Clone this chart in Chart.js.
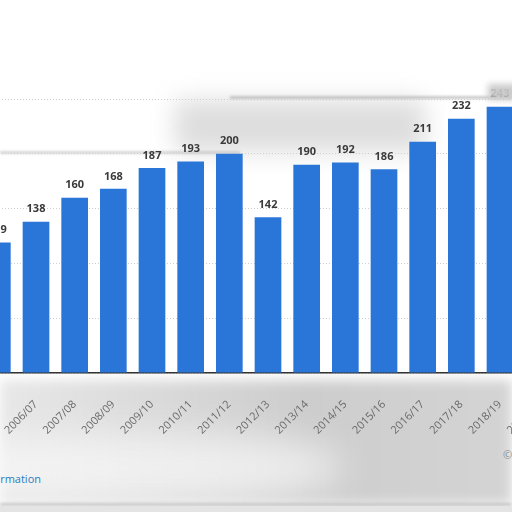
<!DOCTYPE html>
<html>
<head>
<meta charset="utf-8">
<script src="https://cdn.jsdelivr.net/npm/chart.js@4.4.1/dist/chart.umd.min.js"></script>
<style>
  html, body { margin: 0; padding: 0; width: 512px; height: 512px; overflow: hidden; background: #fff; }
  body { position: relative; font-family: "Open Sans", sans-serif; }
  .smudge { position: absolute; pointer-events: none; }
  #wrap { position: absolute; left: -22px; top: 79px; width: 580px; height: 364px; }
  #info { position: absolute; right: 471px; top: 471px; font-size: 11px; color: #2a7bc4; white-space: nowrap; }
  #copy { position: absolute; left: 503px; top: 447px; font-size: 11px; color: #8a8a8a; white-space: nowrap; }
</style>
</head>
<body>
<div class="smudge" style="left:0;top:380px;width:512px;height:124px;background:linear-gradient(90deg,#e8e8e8 0%,#d8d8d8 35%,#cdcdcd 60%,#d4d4d4 100%);filter:blur(6px)"></div>
<div class="smudge" style="left:-40px;top:435px;width:380px;height:65px;background:rgba(250,250,250,0.7);filter:blur(18px);border-radius:40%"></div>
<div class="smudge" style="left:0;top:503px;width:512px;height:3px;background:rgba(170,170,170,0.6);filter:blur(1.5px)"></div>
<div class="smudge" style="left:0;top:506px;width:512px;height:6px;background:#e4e4e4"></div>
<div class="smudge" style="left:175px;top:100px;width:250px;height:52px;background:rgba(170,170,170,0.4);filter:blur(12px)"></div>
<div class="smudge" style="left:230px;top:96px;width:282px;height:3px;background:rgba(160,160,160,0.55);filter:blur(1px)"></div>
<div class="smudge" style="left:0;top:151px;width:240px;height:3px;background:rgba(170,170,170,0.45);filter:blur(1px)"></div>
<div id="wrap"><canvas id="chart"></canvas></div>
<div class="smudge" style="left:488px;top:84px;width:30px;height:16px;background:rgba(200,200,200,0.95);filter:blur(3px)"></div>
<div id="info">Additional Information</div>
<div id="copy">© Statista</div>
<script>
const seasons = ['2005/06', '2006/07', '2007/08', '2008/09', '2009/10', '2010/11', '2011/12', '2012/13',
  '2013/14', '2014/15', '2015/16', '2016/17', '2017/18', '2018/19', '2019/20'];
const values = [119, 138, 160, 168, 187, 193, 200, 142, 190, 192, 186, 211, 232, 243, null];
const yTicks = [0, 50, 100, 150, 200, 250];

// numbers above bars, placed from the bar elements the library laid out
const valueLabels = {
  id: 'valueLabels',
  afterDatasetsDraw(chart) {
    const ctx = chart.ctx;
    const meta = chart.getDatasetMeta(0);
    ctx.save();
    ctx.font = 'bold 11px "Open Sans"';
    ctx.fillStyle = '#3a3a3a';
    ctx.textAlign = 'center';
    ctx.textBaseline = 'bottom';
    meta.data.forEach((bar, i) => {
      if (values[i] == null) return;
      ctx.fillText(values[i], bar.x, bar.y - 7);
    });
    ctx.restore();
  }
};

new Chart(document.getElementById('chart'), {
  type: 'bar',
  data: {
    labels: seasons,
    datasets: [{
      data: values,
      backgroundColor: '#2a75d8',
      categoryPercentage: 1,
      barPercentage: 0.69
    }]
  },
  options: {
    responsive: true,
    maintainAspectRatio: false,
    animation: false,
    layout: { padding: { top: 20, left: 0, right: 0, bottom: 0 } },
    plugins: { legend: { display: false }, tooltip: { enabled: false } },
    scales: {
      x: {
        grid: { display: false },
        border: { display: true, color: '#333', width: 1.5 },
        ticks: {
          color: '#6a6a6a',
          font: { family: 'Open Sans', size: 11 },
          minRotation: 45,
          maxRotation: 45,
          padding: 17
        },
        // fixed axis band so the plot bottom lands where the original has it
        afterFit(scale) { scale.paddingLeft = 0; scale.paddingRight = 0; scale.height = 70; }
      },
      y: {
        min: yTicks[0],
        max: yTicks[yTicks.length - 1],
        afterBuildTicks(scale) { scale.ticks = yTicks.map(v => ({ value: v })); },
        grid: { color: '#cfcfcf', drawTicks: false },
        border: { display: false, dash: [1, 2] },
        ticks: { display: false }
      }
    }
  },
  plugins: [valueLabels]
});
</script>
</body>
</html>
